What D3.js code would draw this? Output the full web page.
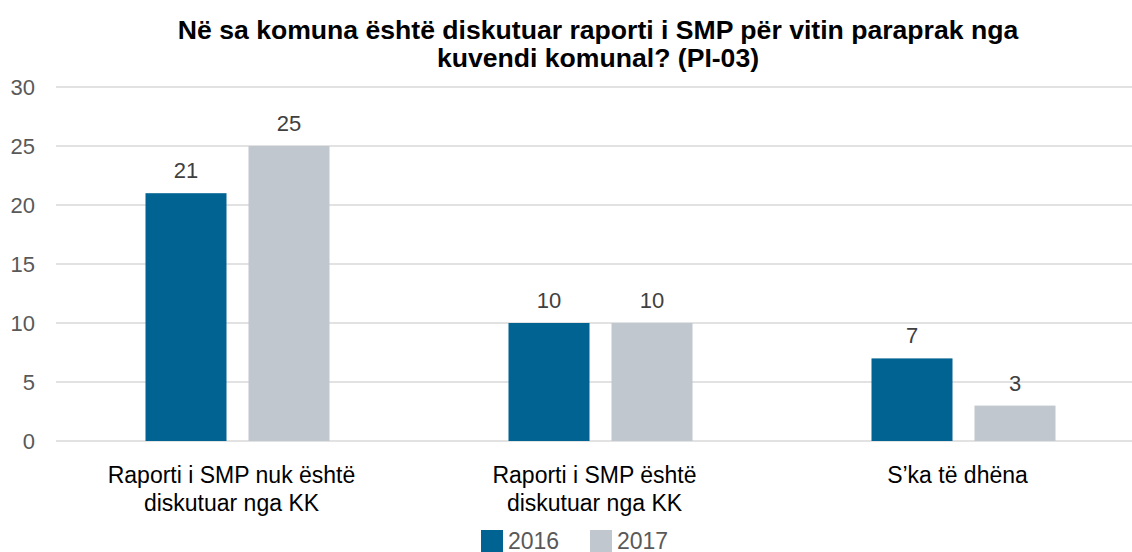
<!DOCTYPE html>
<html>
<head>
<meta charset="utf-8">
<script src="https://cdn.jsdelivr.net/npm/d3@7"></script>
<style>
  body { margin: 0; background: #fff; }
  text { font-family: "Liberation Sans", Arial, sans-serif; }
</style>
</head>
<body>
<script>
var categories = [
  ["Raporti i SMP nuk është", "diskutuar nga KK"],
  ["Raporti i SMP është", "diskutuar nga KK"],
  ["S\u2019ka të dhëna"]
];
var series = ["2016", "2017"];
var values2016 = [21, 10, 7];
var values2017 = [25, 10, 3];
var yTicks = [0, 5, 10, 15, 20, 25, 30];
var titleLines = ["Në sa komuna është diskutuar raporti i SMP për vitin paraprak nga", "kuvendi komunal? (PI-03)"];

var width = 1132, height = 552;
var colors = ["#006391", "#c0c7ce"];

var svg = d3.select("body").append("svg")
    .attr("width", width)
    .attr("height", height);

var y = d3.scaleLinear().domain([0, 30]).range([441, 87]);

var x0 = d3.scaleBand()
    .domain(d3.range(categories.length))
    .range([56, 1145])
    .padding(0);

var x1 = d3.scaleBand()
    .domain(series)
    .range([89.5, 273.5])
    .paddingInner(22 / 103)
    .paddingOuter(0);

// gridlines
svg.append("g").selectAll("line")
    .data(yTicks)
    .enter().append("line")
    .attr("x1", 56).attr("x2", width)
    .attr("y1", function(d){ return y(d); })
    .attr("y2", function(d){ return y(d); })
    .attr("stroke", "#d9d9d9")
    .attr("stroke-width", 1.5);

// y labels
svg.append("g").selectAll("text")
    .data(yTicks)
    .enter().append("text")
    .attr("x", 35)
    .attr("y", function(d){ return y(d); })
    .attr("dy", "0.36em")
    .attr("text-anchor", "end")
    .attr("font-size", 22)
    .attr("fill", "#595959")
    .text(function(d){ return d; });

var rows = categories.map(function(c, i) {
  return { i: i, vals: [values2016[i], values2017[i]] };
});

var groups = svg.append("g").selectAll("g")
    .data(rows)
    .enter().append("g")
    .attr("transform", function(d){ return "translate(" + x0(d.i) + ",0)"; });

groups.selectAll("rect")
    .data(function(d){ return d.vals.map(function(v, k){ return { s: series[k], v: v, k: k }; }); })
    .enter().append("rect")
    .attr("x", function(d){ return x1(d.s); })
    .attr("width", x1.bandwidth())
    .attr("y", function(d){ return y(d.v); })
    .attr("height", function(d){ return y(0) - y(d.v); })
    .attr("fill", function(d){ return colors[d.k]; });

groups.selectAll("text.val")
    .data(function(d){ return d.vals.map(function(v, k){ return { s: series[k], v: v, k: k }; }); })
    .enter().append("text")
    .attr("class", "val")
    .attr("x", function(d){ return x1(d.s) + x1.bandwidth() / 2; })
    .attr("y", function(d){ return y(d.v) - 15; })
    .attr("text-anchor", "middle")
    .attr("font-size", 22)
    .attr("fill", "#404040")
    .text(function(d){ return d.v; });

// category labels
var catText = svg.append("g").selectAll("text")
    .data(categories)
    .enter().append("text")
    .attr("x", function(d, i){ return x0(i) + x0.bandwidth() / 2 - 6; })
    .attr("y", 483)
    .attr("text-anchor", "middle")
    .attr("font-size", 23)
    .attr("fill", "#000");
catText.selectAll("tspan")
    .data(function(d){ return d; })
    .enter().append("tspan")
    .attr("x", function(){ return d3.select(this.parentNode).attr("x"); })
    .attr("dy", function(d, i){ return i ? 28 : 0; })
    .text(function(d){ return d; });

// title
svg.append("g").selectAll("text")
    .data(titleLines)
    .enter().append("text")
    .attr("x", 598)
    .attr("y", function(d, i){ return 39 + i * 28; })
    .attr("text-anchor", "middle")
    .attr("font-size", 26.6)
    .attr("font-weight", "bold")
    .attr("fill", "#000")
    .text(function(d){ return d; });

// legend
var legend = svg.append("g").selectAll("g")
    .data(series)
    .enter().append("g")
    .attr("transform", function(d, i){ return "translate(" + (481 + i * 109) + ",530)"; });
legend.append("rect")
    .attr("width", 22).attr("height", 22)
    .attr("fill", function(d, i){ return colors[i]; });
legend.append("text")
    .attr("x", 27).attr("y", 19)
    .attr("font-size", 23)
    .attr("fill", "#595959")
    .text(function(d){ return d; });
</script>
</body>
</html>
